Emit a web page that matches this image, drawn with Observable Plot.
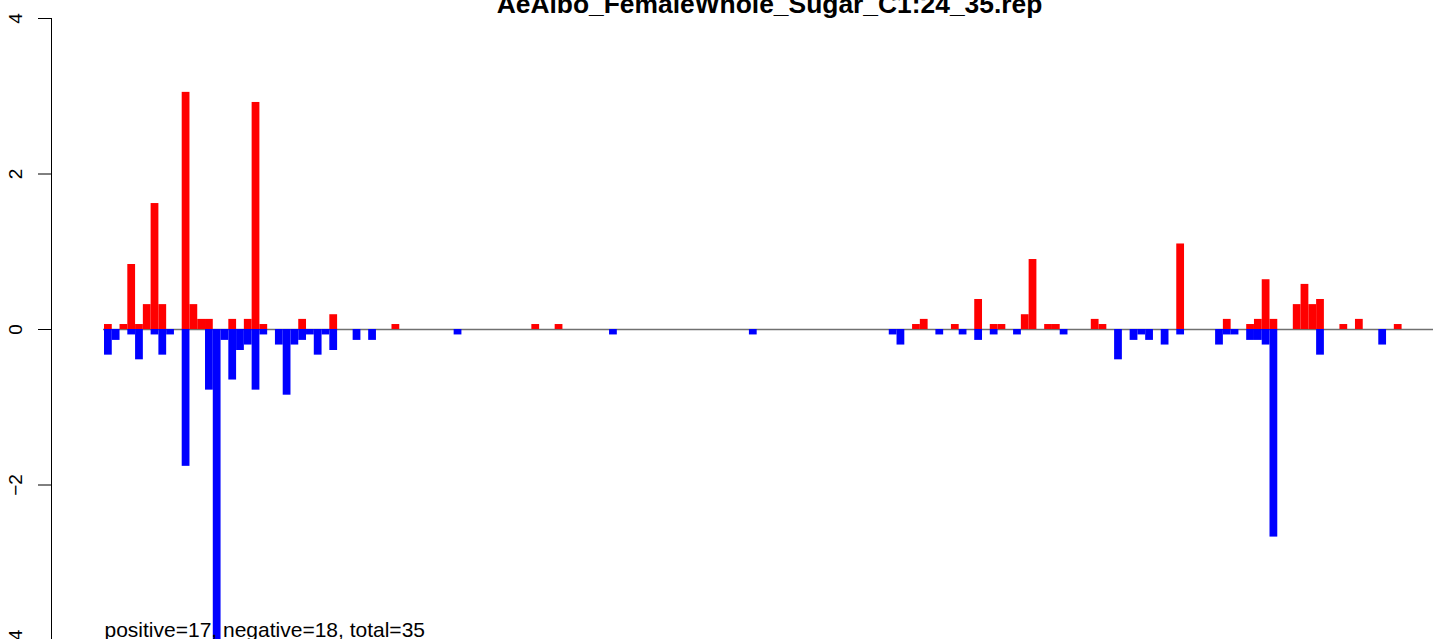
<!DOCTYPE html>
<html>
<head>
<meta charset="utf-8">
<script src="https://cdn.jsdelivr.net/npm/d3@7"></script>
<script src="https://cdn.jsdelivr.net/npm/@observablehq/plot@0.6"></script>
<style>
  html, body { margin: 0; padding: 0; background: #ffffff; }
  #chart svg { display: block; }
</style>
</head>
<body>
<div id="chart"></div>
<script>
// ---- Data ----
const chartTitle = "AeAlbo_FemaleWhole_Sugar_C1:24_35.rep";
const summaryText = "positive=17, negative=18, total=35";
const yTicks = [-4, -2, 0, 2, 4];

// positive (red) bars: slot index and value
const posIndex = [0, 2, 3, 4, 5, 6, 7, 10, 11, 12, 13, 16, 18, 19, 20, 25, 29, 37, 55, 58,
  104, 105, 109, 112, 114, 115, 118, 119, 121, 122, 127, 128, 138, 144, 147, 148, 149, 150,
  153, 154, 155, 156, 159, 161, 166];
const posValue = [0.064, 0.064, 0.836, 0.064, 0.32, 1.62, 0.32, 3.05, 0.32, 0.13, 0.13, 0.13, 0.13, 2.92, 0.064, 0.13, 0.19, 0.064, 0.064, 0.064,
  0.064, 0.13, 0.064, 0.386, 0.064, 0.064, 0.19, 0.90, 0.064, 0.064, 0.13, 0.064, 1.10, 0.13, 0.064, 0.13, 0.64, 0.13,
  0.32, 0.58, 0.32, 0.386, 0.064, 0.13, 0.064];

// negative (blue) bars: slot index and value
const negIndex = [0, 1, 3, 4, 6, 7, 8, 10, 13, 14, 15, 16, 17, 18, 19, 20, 22, 23, 24, 25, 26, 27, 28, 29,
  32, 34, 45, 65, 83, 101, 102, 107, 110, 112, 114, 117, 123, 130, 132, 133, 134, 136, 138,
  143, 144, 145, 147, 148, 149, 150, 156, 164];
const negValue = [-0.33, -0.14, -0.07, -0.39, -0.07, -0.33, -0.07, -1.76, -0.78, -4.0, -0.14, -0.65, -0.27, -0.20, -0.78, -0.07, -0.20, -0.845, -0.20, -0.14, -0.07, -0.33, -0.07, -0.27,
  -0.14, -0.14, -0.07, -0.07, -0.07, -0.07, -0.20, -0.07, -0.07, -0.14, -0.07, -0.07, -0.07, -0.39, -0.14, -0.07, -0.14, -0.20, -0.07,
  -0.20, -0.07, -0.07, -0.14, -0.14, -0.20, -2.67, -0.33, -0.20];

// ---- Tables built from the arrays ----
const posBars = posIndex.map((i, k) => ({slot: i, value: posValue[k]}));
const negBars = negIndex.map((i, k) => ({slot: i, value: negValue[k]}));

const slotWidth = 7.77;
const firstBarLeft = 104;
const nSlots = 170;

const chart = Plot.plot({
  width: 1433,
  height: 639,
  marginLeft: 51,
  marginRight: 0,
  marginTop: 18,
  marginBottom: 0,
  style: {
    fontFamily: "'Liberation Sans', Arial, Helvetica, sans-serif",
    background: "#ffffff",
    color: "#000000"
  },
  x: {domain: [0, nSlots], range: [firstBarLeft, firstBarLeft + nSlots * slotWidth], axis: null},
  y: {domain: [-4, 4], range: [640, 18], axis: null},
  marks: [
    Plot.frame({anchor: "left", stroke: "#000000", strokeWidth: 1}),
    Plot.axisY(yTicks, {
      label: null,
      tickFormat: d3.format("d"),
      tickSize: 13,
      tickRotate: -90,
      tickPadding: 17,
      fontSize: 19,
      stroke: "#000000",
      strokeWidth: 1
    }),
    Plot.ruleY([0], {x1: -0.13, x2: nSlots + 5, stroke: "#707070", strokeWidth: 1.3}),
    Plot.rect(posBars, {x1: "slot", x2: d => d.slot + 1, y1: 0, y2: "value", fill: "#ff0000", inset: 0}),
    Plot.rect(negBars, {x1: "slot", x2: d => d.slot + 1, y1: 0, y2: "value", fill: "#0000ff", inset: 0}),
    Plot.text([chartTitle], {
      frameAnchor: "top", dx: 27, dy: -6, lineAnchor: "bottom",
      fontSize: 26.4, fontWeight: "bold", fill: "#000000"
    }),
    Plot.text([summaryText], {
      frameAnchor: "bottom-left", dx: 53, dy: -3, lineAnchor: "bottom", textAnchor: "start",
      fontSize: 21, fill: "#000000"
    })
  ]
});

document.getElementById("chart").appendChild(chart);
</script>
</body>
</html>
